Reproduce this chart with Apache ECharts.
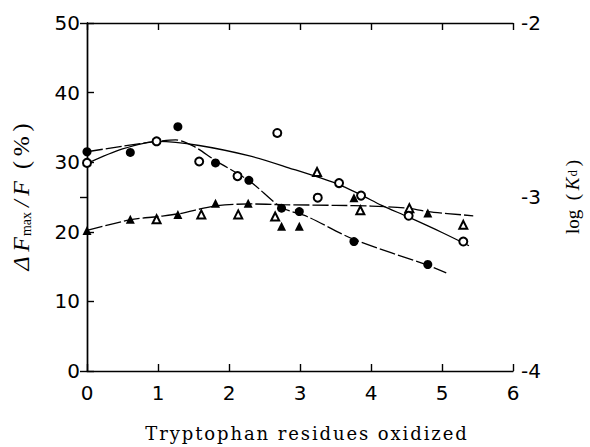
<!DOCTYPE html>
<html><head><meta charset="utf-8">
<script src="https://cdn.jsdelivr.net/npm/echarts@6/dist/echarts.min.js"></script>
<style>html,body{margin:0;padding:0;background:#fff}#c{width:590px;height:447px}</style>
</head><body><div id="c"></div>
<script>
// x: tryptophan residues oxidized ; y: ΔFmax/F (%)
const xTicks = [0, 1, 2, 3, 4, 5, 6];
const leftTicks = [0, 10, 20, 30, 40, 50];
const rightTicks = [-4, -3, -2];
const xTitle = 'Tryptophan residues oxidized';

const filledCircles = [[0,31.5],[0.61,31.4],[1.28,35.1],[1.81,29.9],[2.28,27.4],[2.74,23.4],[2.99,22.9],[3.76,18.6],[4.80,15.3]];
const openCircles = [[0,29.9],[0.98,33.0],[1.58,30.1],[2.12,28.0],[2.68,34.2],[3.25,24.9],[3.55,27.0],[3.86,25.2],[4.53,22.3],[5.30,18.6]];
const filledTriangles = [[0,20.2],[0.61,21.8],[1.28,22.5],[1.81,24.1],[2.27,24.1],[2.74,20.8],[2.99,20.8],[3.76,24.9],[4.80,22.7]];
const openTriangles = [[0.98,21.8],[1.61,22.5],[2.13,22.5],[2.65,22.2],[3.24,28.6],[3.85,23.1],[4.54,23.4],[5.30,21.0]];

const curveOpenCircles = [[0,29.8],[0.5,31.9],[1.0,33.0],[1.58,32.4],[2.29,30.9],[2.84,29.2],[3.52,26.9],[3.86,25.3],[4.15,23.8],[4.53,22.1],[5.0,19.9],[5.38,18.0]];
const curveFilledCircles = [[0,31.5],[0.5,32.3],[1.0,33.0],[1.25,33.2],[1.5,32.3],[1.8,30.3],[2.3,27.2],[2.74,23.5],[3.1,22.2],[3.76,18.9],[4.8,15.2],[5.06,14.1]];
const curveTriangles = [[0,20.2],[0.6,21.7],[1.0,22.2],[1.3,22.6],[1.8,23.7],[2.3,24.0],[2.75,23.9],[3.5,23.8],[4.0,23.7],[4.5,23.4],[4.8,22.9],[5.44,22.3]];

const tickFont = {color:'#000', fontSize:20, fontFamily:'DejaVu Sans'};
const serif = 'Liberation Serif';
const chart = echarts.init(document.getElementById('c'), null, {renderer:'svg'});
function curve(data, type){
  return {type:'line', data, smooth:0.3, symbol:'none', z:2,
    lineStyle:{color:'#000', width:1.3, type}, silent:true};
}
function pts(data, symbol, size){
  const empty = symbol.startsWith('empty');
  return {type:'scatter', data, symbol, symbolSize:size, z:5,
    itemStyle:{color:'#000', borderColor:'#000', borderWidth: empty ? 1.6 : 0, opacity:1}};
}
const axLine = {lineStyle:{color:'#000', width:1.4}};
const axTick = {show:true, inside:true, length:7, lineStyle:{color:'#000', width:1.4}};
chart.setOption({
  animation:false,
  backgroundColor:'#fff',
  grid:{left:87, right:74, top:23, bottom:70},
  xAxis:[{
    type:'value', min:0, max:6, interval:1, position:'bottom',
    axisLine:axLine, axisTick:axTick,
    axisLabel:Object.assign({margin:12, formatter:v=>xTicks.includes(v)?String(v):''}, tickFont),
    splitLine:{show:false},
    name:xTitle, nameLocation:'middle', nameGap:53,
    nameTextStyle:{fontFamily:'DejaVu Serif', fontSize:18, color:'#000', padding:[0,0,0,14]}
  },{
    type:'value', min:0, max:6, interval:1, position:'top',
    axisLine:axLine, axisTick:axTick,
    axisLabel:{show:false}, splitLine:{show:false}
  }],
  yAxis:[{
    type:'value', min:0, max:50, interval:10, position:'left',
    axisLine:Object.assign({show:true}, axLine), axisTick:axTick,
    axisLabel:Object.assign({margin:7, formatter:v=>leftTicks.includes(v)?String(v):''}, tickFont),
    splitLine:{show:false},
    name:'{i|Δ\u2009F}{s|max}{i|\u2009/\u2009F}{n|\u2002(\u2009%\u2009)}', nameLocation:'middle', nameGap:54, nameRotate:90,
    nameTextStyle:{color:'#000', rich:{
      i:{fontFamily:serif, fontStyle:'italic', fontSize:24, color:'#000'},
      s:{fontFamily:serif, fontSize:14, color:'#000', padding:[10,0,0,1]},
      n:{fontFamily:serif, fontSize:24, color:'#000'}
    }}
  },{
    type:'value', min:-4, max:-2, interval:1, position:'right',
    axisLine:Object.assign({show:true}, axLine), axisTick:axTick,
    axisLabel:Object.assign({margin:8, formatter:v=>rightTicks.includes(v)?String(v):''}, tickFont),
    splitLine:{show:false},
    name:'{n|log\u2002(\u2009}{i|K}{s|d}{n|\u2009)}', nameLocation:'middle', nameGap:50, nameRotate:90,
    nameTextStyle:{color:'#000', rich:{
      i:{fontFamily:serif, fontStyle:'italic', fontSize:19, color:'#000'},
      s:{fontFamily:serif, fontSize:13, color:'#000', padding:[0,0,0,1]},
      n:{fontFamily:serif, fontSize:19, color:'#000'}
    }}
  }],
  series:[
    curve(curveOpenCircles, 'solid'),
    curve(curveFilledCircles, [16,3]),
    curve(curveTriangles, [16,3]),
    pts(openTriangles, 'emptyTriangle', 8),
    pts(filledTriangles, 'triangle', 9),
    pts(openCircles, 'emptyCircle', 8),
    pts(filledCircles, 'circle', 9)
  ]
});
function spaceTitle(){
  document.querySelectorAll('#c text').forEach(t => {
    if (t.textContent === xTitle) t.setAttribute('letter-spacing', '1.9');
  });
}
spaceTitle();
chart.on('finished', spaceTitle);
setTimeout(spaceTitle, 0);
</script></body></html>
